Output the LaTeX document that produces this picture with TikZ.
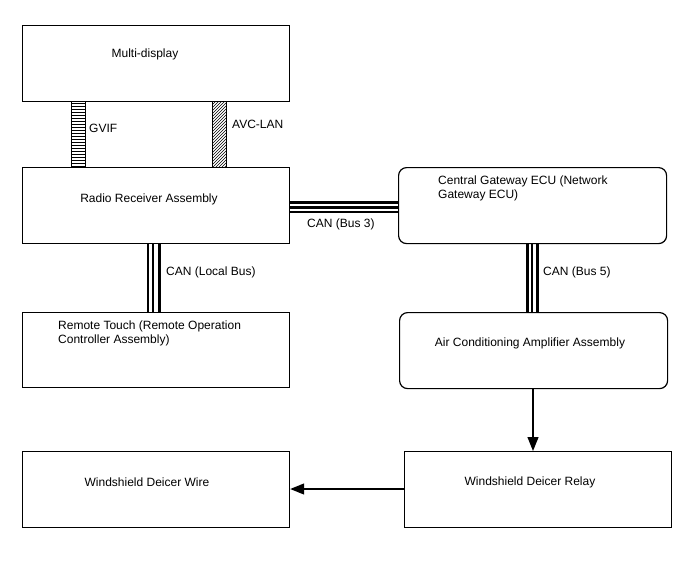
\documentclass[tikz,border=0pt]{standalone}
\usepackage{fontspec}
\setmainfont{Liberation Sans}
\usetikzlibrary{arrows.meta,patterns}
\begin{document}
\begin{tikzpicture}[x=1pt,y=-1pt,
  box/.style={draw=black, line width=1.2pt, inner sep=0pt, anchor=north west, minimum width=#1},
  box/.default=267pt,
  rbox/.style={box=#1, rounded corners=8pt},
  rbox/.default=268pt,
  txt/.style={inner sep=0pt, font=\fontsize{12}{14}\selectfont},
  bus/.style={draw=black, line width=2.2pt},
  link/.style={draw=black, line width=1.2pt, -{Triangle[length=14pt,width=11pt]}},
  bar/.style={draw=black, line width=1pt}
]
\useasboundingbox (0,0) rectangle (688,560);

% boxes
\node[box, minimum height=76pt] (md) at (22,25) {};
\node[box, minimum height=76pt] (rr) at (22,167) {};
\node[box, minimum height=75pt] (rt) at (22,312) {};
\node[box, minimum height=76pt] (ww) at (22,451) {};
\node[rbox, minimum height=76pt] (cg) at (398,167) {};
\node[rbox, minimum height=76pt] (ac) at (399,312) {};
\node[box, minimum height=76pt] (wr) at (404,451) {};

% texts
\node[txt, anchor=base] (tmd) at (145,57.5) {Multi-display};
\node[txt, anchor=base] (trr) at (149,202) {Radio Receiver Assembly};
\node[txt, anchor=base west, align=left] (trt) at (58,343.5) {Remote Touch (Remote Operation\\Controller Assembly)};
\node[txt, anchor=base] (tww) at (147,486) {Windshield Deicer Wire};
\node[txt, anchor=base west, align=left] (tcg) at (438,198.5) {Central Gateway ECU (Network\\Gateway ECU)};
\node[txt, anchor=base] (tac) at (530,346) {Air Conditioning Amplifier Assembly};
\node[txt, anchor=base] (twr) at (530,485.5) {Windshield Deicer Relay};

% GVIF bar
\path[pattern=horizontal lines] (71,0 |- md.south) rectangle (85,0 |- rr.north);
\draw[bar] (71,0 |- md.south) -- (71,0 |- rr.north) (85,0 |- md.south) -- (85,0 |- rr.north);
\node[txt, anchor=base west] (lgvif) at (89,132) {GVIF};

% AVC-LAN bar
\path[pattern=north east lines] (212,0 |- md.south) rectangle (226,0 |- rr.north);
\draw[bar] (212,0 |- md.south) -- (212,0 |- rr.north) (226,0 |- md.south) -- (226,0 |- rr.north);
\node[txt, anchor=base west] (lavc) at (232,128.5) {AVC-LAN};

% CAN (Local Bus)
\draw[bus] (148.3,0 |- rr.south) -- (148.3,0 |- rt.north);
\draw[bus] (153.3,0 |- rr.south) -- (153.3,0 |- rt.north);
\draw[bus, line width=3pt] (159.5,0 |- rr.south) -- (159.5,0 |- rt.north);
\node[txt, anchor=base west] (llocal) at (166,275) {CAN (Local Bus)};

% CAN (Bus 3)
\draw[bus, line width=3pt] (rr.east |- 0,202.3) -- (cg.west |- 0,202.3);
\draw[bus] (rr.east |- 0,207.5) -- (cg.west |- 0,207.5);
\draw[bus] (rr.east |- 0,211.7) -- (cg.west |- 0,211.7);
\node[txt, anchor=base west] (lbus3) at (307,227) {CAN (Bus 3)};

% CAN (Bus 5)
\draw[bus] (527.4,0 |- cg.south) -- (527.4,0 |- ac.north);
\draw[bus] (532.2,0 |- cg.south) -- (532.2,0 |- ac.north);
\draw[bus, line width=3pt] (537.7,0 |- cg.south) -- (537.7,0 |- ac.north);
\node[txt, anchor=base west] (lbus5) at (543,275) {CAN (Bus 5)};

% arrows
\draw[link] (533,0 |- ac.south) -- (533,0 |- wr.north);
\draw[link] (wr.west |- 0,489) -- (ww.east |- 0,489);
\end{tikzpicture}
\end{document}
